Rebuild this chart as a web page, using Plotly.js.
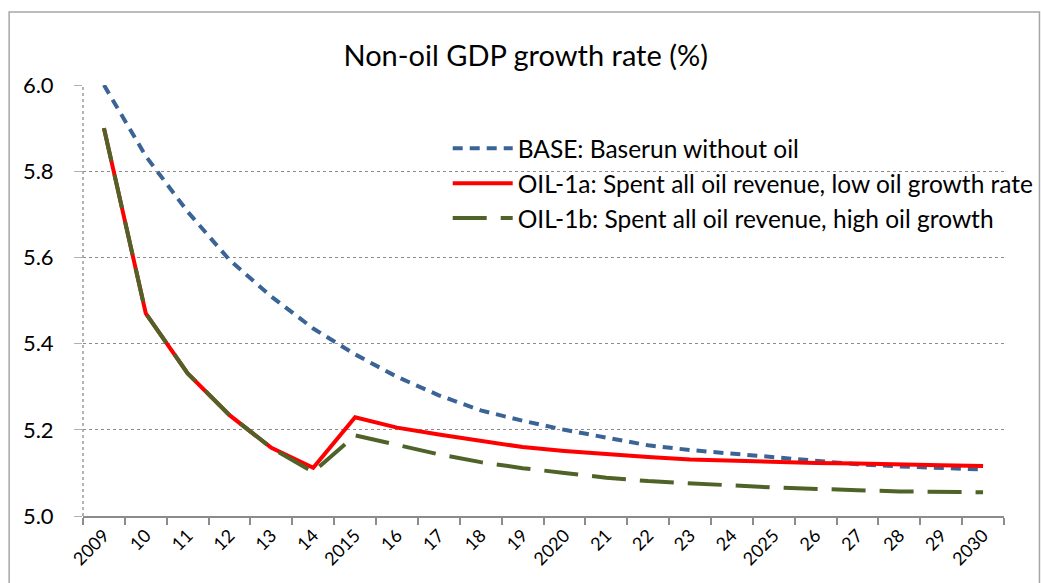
<!DOCTYPE html>
<html>
<head>
<meta charset="utf-8">
<script src="https://cdn.plot.ly/plotly-3.0.1.min.js"></script>
<style>html,body{margin:0;padding:0;background:#fff;}#chart{width:1041px;height:583px;}</style>
</head>
<body>
<div id="chart"></div>
<script>
const years = ["2009","10","11","12","13","14","2015","16","17","18","19","2020","21","22","23","24","2025","26","27","28","29","2030"];
const base = [6.000,5.835,5.706,5.594,5.509,5.435,5.375,5.323,5.280,5.245,5.221,5.200,5.182,5.164,5.153,5.145,5.136,5.127,5.120,5.115,5.111,5.108];
const oil1a = [5.900,5.470,5.331,5.234,5.158,5.112,5.229,5.205,5.189,5.174,5.160,5.151,5.143,5.137,5.131,5.128,5.126,5.123,5.122,5.119,5.118,5.116];
const oil1b = [5.900,5.470,5.331,5.234,5.158,5.102,5.187,5.164,5.143,5.125,5.111,5.100,5.089,5.081,5.077,5.071,5.066,5.062,5.060,5.057,5.056,5.055];
const names = ["BASE: Baserun without oil","OIL-1a: Spent all oil revenue, low oil growth rate","OIL-1b: Spent all oil revenue, high oil growth"];

const traces = [
  {x: years, y: base, name: names[0], type: "scatter", mode: "lines",
   line: {color: "#3A6496", width: 4, dash: "10px,7px"}},
  {x: years, y: oil1a, name: names[1], type: "scatter", mode: "lines",
   line: {color: "#FF0000", width: 4}},
  {x: years, y: oil1b, name: names[2], type: "scatter", mode: "lines",
   line: {color: "#4F6228", width: 4, dash: "34px,14px"}}
];

const layout = {
  width: 1041, height: 583,
  margin: {l: 82.7, r: 36.5, t: 85, b: 67.3, pad: 0, autoexpand: false},
  paper_bgcolor: "#fff", plot_bgcolor: "#fff",
  font: {family: "Lato, 'Open Sans', sans-serif", color: "#000"},
  title: {text: "Non-oil GDP growth rate (%)", font: {size: 29, family: "Lato, sans-serif", color: "#000"},
          x: 0.505, xanchor: "center", y: 0.905, yanchor: "middle"},
  xaxis: {type: "category", tickson: "boundaries", ticks: "outside", ticklen: 7, tickcolor: "#8c8c8c", tickwidth: 2,
          showline: true, linecolor: "#8c8c8c", linewidth: 2, showgrid: false, tickangle: -45,
          tickfont: {size: 18, family: "Lato, sans-serif"}, range: [-0.5, 21.5], fixedrange: true, automargin: false},
  yaxis: {range: [5.0, 6.0], dtick: 0.2, tickformat: ".1f", showgrid: true, gridcolor: "#8c8c8c", griddash: "dot", gridwidth: 1.3,
          ticks: "outside", ticklen: 8, tickcolor: "#b0b0b0", showline: false, zeroline: false, automargin: false,
          tickfont: {size: 22, family: "Lato, sans-serif"}, ticklabelstandoff: 16},
  showlegend: true,
  legend: {x: 0.396, y: 0.905, xanchor: "left", yanchor: "top", bgcolor: "rgba(0,0,0,0)",
           font: {size: 24.5, family: "Lato, sans-serif", color: "#000"}, itemwidth: 60, tracegroupgap: 0},
  shapes: [
    {type: "line", xref: "paper", yref: "paper", x0: 0, x1: 0, y0: 0, y1: 1,
     line: {color: "#8c8c8c", width: 1.3, dash: "dot"}},
    {type: "rect", xref: "paper", yref: "paper", x0: -0.0802, x1: 1.0385, y0: -0.2, y1: 1.1695,
     line: {color: "#a6a6a6", width: 1.5}, fillcolor: "rgba(0,0,0,0)", layer: "below"}
  ]
};

Plotly.newPlot("chart", traces, layout, {displayModeBar: false, staticPlot: true});
</script>
</body>
</html>
